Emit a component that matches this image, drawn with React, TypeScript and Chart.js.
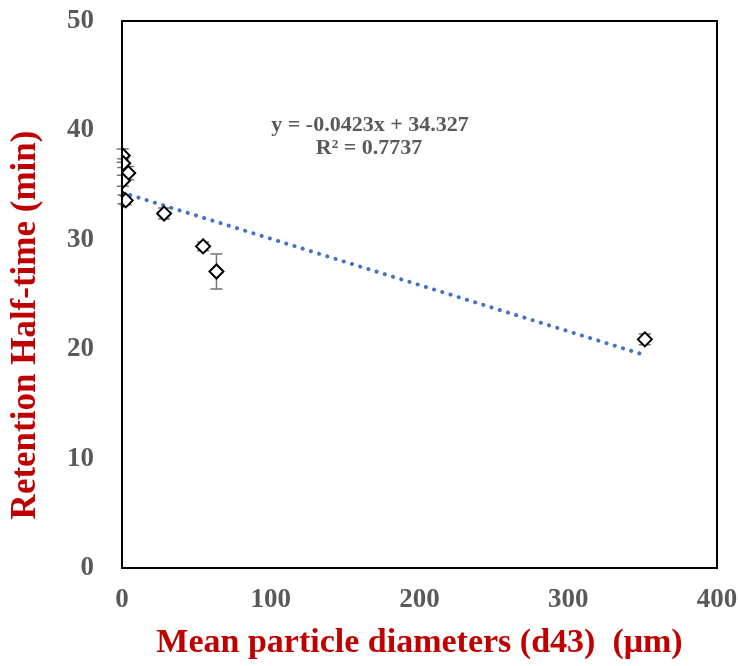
import React, { useEffect, useRef } from "react";
import { Chart, registerables } from "chart.js";
Chart.register(...registerables);

const xValues = [0.5, 0.8, 4.2, 0.6, 1.0, 2.5, 28.3, 54.5, 63.5, 351.5];
const yValues = [37.7, 37.0, 36.1, 35.4, 33.7, 33.6, 32.4, 29.4, 27.1, 20.9];
const yErrors = [0.6, 0.4, 0.6, 0.5, 0.4, 0.4, 0.5, 0.4, 1.6, 0.5];
const slope = -0.0423;
const intercept = 34.327;
const trendX = [0, 351.5];
const xTicks = [0, 100, 200, 300, 400];
const yTicks = [0, 10, 20, 30, 40, 50];
const eqText = "y = -0.0423x + 34.327";
const r2Text = "R² = 0.7737";
const xTitle = "Mean particle diameters (d43)  (μm)";
const yTitle = "Retention Half-time (min)";

const FONT = "'Liberation Serif', 'Times New Roman', serif";

const errorBarPlugin = {
  id: "errorBars",
  beforeDatasetsDraw(chart: any) {
    const ctx = chart.ctx;
    const xs = chart.scales.x;
    const ys = chart.scales.y;
    ctx.save();
    ctx.strokeStyle = "#737373";
    ctx.lineWidth = 1.5;
    for (let i = 0; i < xValues.length; i++) {
      const px = xs.getPixelForValue(xValues[i]);
      const top = ys.getPixelForValue(yValues[i] + yErrors[i]);
      const bot = ys.getPixelForValue(yValues[i] - yErrors[i]);
      ctx.beginPath();
      ctx.moveTo(px, top);
      ctx.lineTo(px, bot);
      ctx.moveTo(px - 6, top);
      ctx.lineTo(px + 6, top);
      ctx.moveTo(px - 6, bot);
      ctx.lineTo(px + 6, bot);
      ctx.stroke();
    }
    ctx.restore();
  },
};

const annotationPlugin = {
  id: "annot",
  afterDraw(chart: any) {
    const ctx = chart.ctx;
    ctx.save();
    ctx.fillStyle = "#595959";
    ctx.font = "bold 22px " + FONT;
    ctx.textAlign = "center";
    ctx.textBaseline = "middle";
    ctx.fillText(eqText, 370, 125);
    ctx.fillText(r2Text, 369, 148);
    // y-axis title
    ctx.translate(26, 325);
    ctx.rotate(-Math.PI / 2);
    ctx.fillStyle = "#C00000";
    ctx.font = "bold 35px " + FONT;
    ctx.fillText(yTitle, 0, 0);
    ctx.restore();
  },
};

export default function App() {
  const ref = useRef<HTMLCanvasElement>(null);
  useEffect(() => {
    if (!ref.current) return;
    const pts = xValues.map((x, i) => ({ x, y: yValues[i] }));
    const trend = trendX.map((x) => ({ x, y: slope * x + intercept }));
    const chart = new Chart(ref.current, {
      type: "scatter",
      data: {
        datasets: [
          {
            type: "line",
            data: trend,
            borderColor: "#4472C4",
            borderWidth: 4,
            borderDash: [0.1, 8.5],
            borderCapStyle: "round",
            pointRadius: 0,
            fill: false,
            order: 2,
          } as any,
          {
            data: pts,
            pointStyle: "rectRot",
            pointRadius: 7,
            pointBorderWidth: 2,
            pointBackgroundColor: "#ffffff",
            pointBorderColor: "#000000",
            order: 1,
          },
        ],
      },
      options: {
        animation: false,
        responsive: false,
        maintainAspectRatio: false,
        layout: { padding: { top: 21, right: 21, left: 0, bottom: 0 } },
        plugins: { legend: { display: false }, tooltip: { enabled: false } },
        scales: {
          x: {
            type: "linear",
            min: 0,
            max: 400,
            afterFit: (s: any) => {
              s.height = 98;
              s.paddingLeft = 0;
              s.paddingRight = 0;
            },
            afterBuildTicks: (s: any) => { s.ticks = xTicks.map((v) => ({ value: v })); },
            grid: { display: false, drawTicks: false },
            border: { display: true, color: "#000000", width: 2 },
            ticks: {
              color: "#595959",
              padding: 16,
              font: { family: FONT, size: 27, weight: "bold" },
            },
            title: {
              display: true,
              text: xTitle,
              color: "#C00000",
              padding: { top: 0, bottom: 2 },
              font: { family: FONT, size: 34, weight: "bold" },
            },
          },
          y: {
            type: "linear",
            min: 0,
            max: 50,
            afterFit: (s: any) => {
              s.width = 122;
              s.paddingTop = 0;
              s.paddingBottom = 0;
            },
            afterBuildTicks: (s: any) => { s.ticks = yTicks.map((v) => ({ value: v })); },
            grid: { display: false, drawTicks: false },
            border: { display: true, color: "#000000", width: 2 },
            ticks: {
              color: "#595959",
              padding: 28,
              font: { family: FONT, size: 27, weight: "bold" },
            },
            title: { display: false },
          },
        },
      },
      plugins: [
        errorBarPlugin,
        annotationPlugin,
        {
          id: "box",
          afterDraw(chart: any) {
            const { ctx, chartArea: a } = chart;
            ctx.save();
            ctx.strokeStyle = "#000000";
            ctx.lineWidth = 2;
            ctx.strokeRect(a.left, a.top, a.right - a.left, a.bottom - a.top);
            ctx.restore();
          },
        },
      ],
    });
    return () => chart.destroy();
  }, []);
  return (
    <div style={{ position: "absolute", left: 0, top: 0, width: 738, height: 666, background: "#fff" }}>
      <canvas ref={ref} width={738} height={666} style={{ width: 738, height: 666 }} />
    </div>
  );
}
